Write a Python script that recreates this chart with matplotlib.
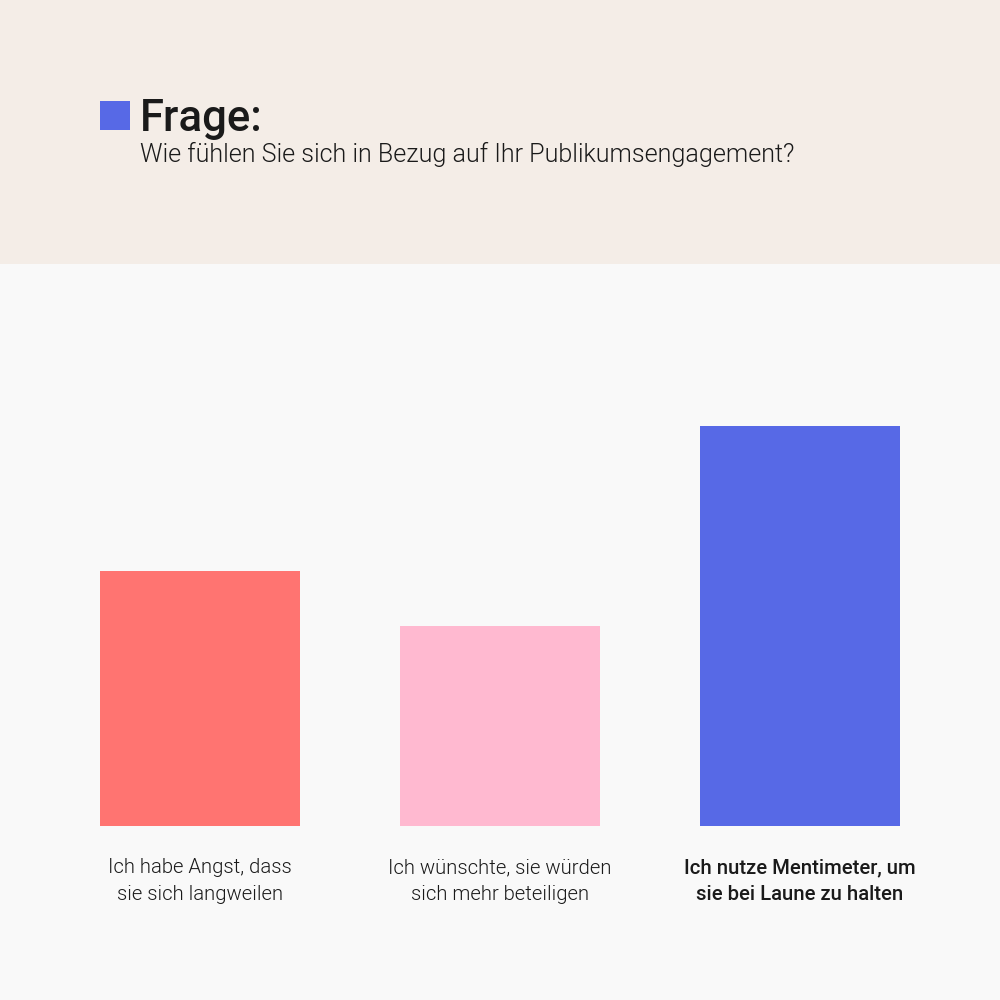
import matplotlib
matplotlib.use("Agg")
import matplotlib.pyplot as plt
from matplotlib.patches import Rectangle

categories = ["Ich habe Angst, dass\nsie sich langweilen",
              "Ich wünschte, sie würden\nsich mehr beteiligen",
              "Ich nutze Mentimeter, um\nsie bei Laune zu halten"]
values = [255, 200, 400]
colors = ["#FF7471", "#FFB9D0", "#5769E6"]
weights = [300, 300, 500]
title = "Frage:"
subtitle = "Wie fühlen Sie sich in Bezug auf Ihr Publikumsengagement?"

plt.rcParams['font.family'] = ['Roboto', 'DejaVu Sans']

fig = plt.figure(figsize=(10, 10), dpi=100)
fig.patch.set_facecolor("#F9F9F9")
# header band
fig.patches.append(Rectangle((0, 1 - 0.264), 1, 0.264, transform=fig.transFigure,
                             facecolor="#F4EDE7", edgecolor="none", zorder=0))
fig.patches.append(Rectangle((0.100, 1 - 0.130), 0.030, 0.029, transform=fig.transFigure,
                             facecolor="#5769E6", edgecolor="none", zorder=1))
fig.text(0.140, 1 - 0.1185, title, fontsize=31.5, fontweight=500, color="#1A1A1A",
         va="center", ha="left")
fig.text(0.140, 1 - 0.154, subtitle, fontsize=18.1, fontweight=300, color="#1A1A1A",
         va="center", ha="left")

ax = fig.add_axes([0.1, 0.174, 0.8, 0.4])
ax.set_facecolor("none")
x = list(range(len(values)))
ax.bar(x, values, width=2/3, color=colors)
ax.set_xlim(-1/3, 2 + 1/3)
ax.set_ylim(0, 400)
for s in ax.spines.values():
    s.set_visible(False)
ax.set_yticks([])
ax.set_xticks(x)
ax.set_xticklabels(categories, fontsize=14.6, color="#1A1A1A", linespacing=1.55)
for lbl, w in zip(ax.get_xticklabels(), weights):
    lbl.set_fontweight(w)
ax.tick_params(axis="x", length=0, pad=23)

fig.savefig("out.png", dpi=100, facecolor=fig.get_facecolor())
